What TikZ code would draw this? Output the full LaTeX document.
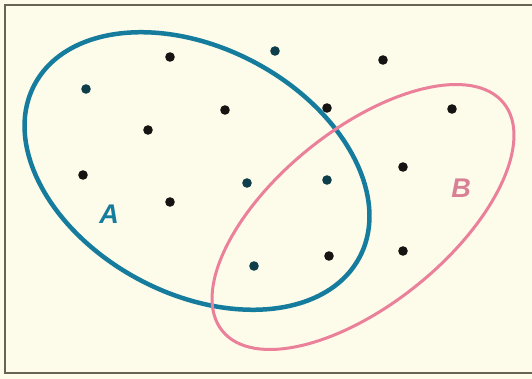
\documentclass[tikz,border=0pt]{standalone}
\usepackage{fontspec}
\setsansfont{Liberation Sans}
\usepackage{tikz}
\usetikzlibrary{calc}
\definecolor{paperbg}{RGB}{253,251,234}
\definecolor{frameline}{RGB}{104,100,84}
\definecolor{setblue}{RGB}{22,124,158}
\definecolor{setpink}{RGB}{234,128,154}
\definecolor{dotblack}{RGB}{22,20,18}
\definecolor{dotteal}{RGB}{14,62,74}

\begin{document}
\begin{tikzpicture}[x=1pt, y=-1pt,
    setlabel/.style={font=\sffamily\bfseries\itshape\fontsize{27}{27}\selectfont, inner sep=0pt}]
    % Paper and frame
    \fill[paperbg] (0,0) rectangle (532,379);
    \useasboundingbox (0,0) rectangle (532,379);
    \draw[frameline, line width=2pt] (532,5) -- (5,5) -- (5,373) -- (532,373);

    % Set A
    \draw[setblue, line width=4.5pt, rotate around={-28:(197,171)}]
        (197,171) ellipse [x radius=184pt, y radius=123pt];
    \node[setlabel, text=setblue] (labA) at (109,214) {A};

    % Set B
    \draw[setpink, line width=3pt, rotate around={39:(363,217)}]
        (363,217) ellipse [x radius=181pt, y radius=87pt];
    \node[setlabel, text=setpink!85!gray] (labB) at (461,188) {B};

    % Points
    \foreach \x/\y in {170/57, 383/60, 225/110, 327/108, 452/109, 148/130,
                       83/175, 403/167, 170/202, 329/256, 403/251} {
        \fill[dotblack] (\x,\y) circle (4.8pt);
    }
    \foreach \x/\y in {86/89, 275/51, 247/183, 327/180, 254/266} {
        \fill[dotteal] (\x,\y) circle (4.8pt);
    }
\end{tikzpicture}
\end{document}
